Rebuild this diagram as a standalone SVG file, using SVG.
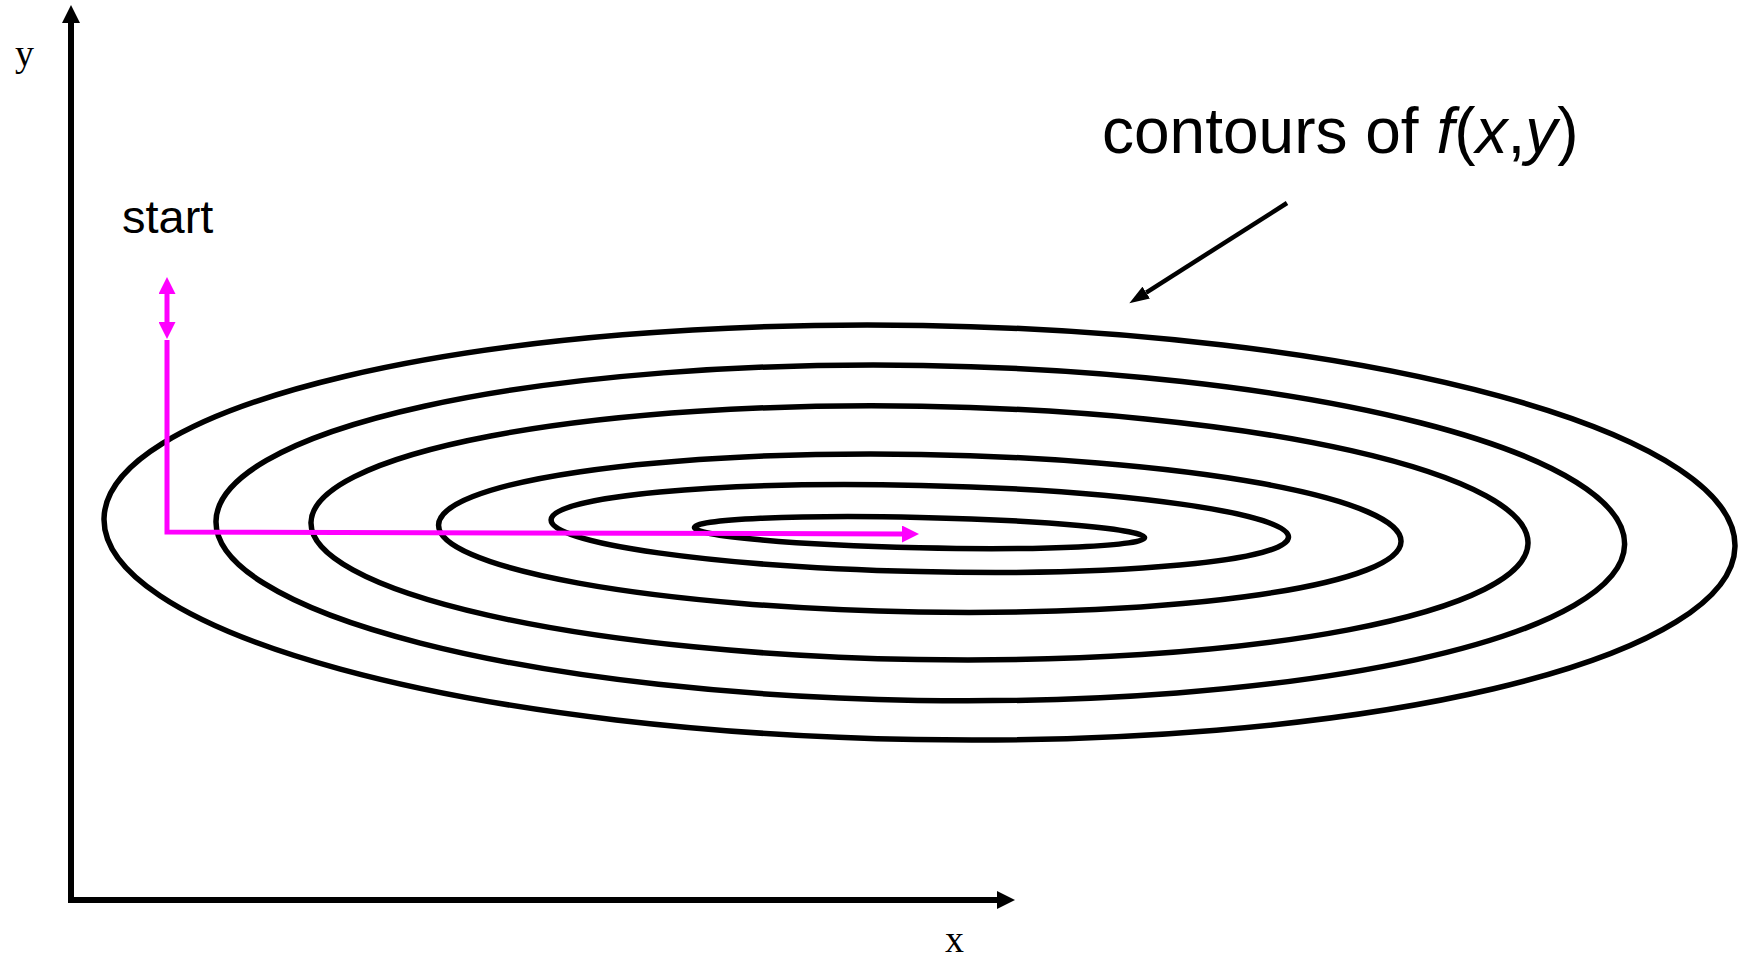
<svg xmlns="http://www.w3.org/2000/svg" width="1743" height="962" viewBox="0 0 1743 962">
<style>
.contour{fill:none;stroke:#000;stroke-width:5.5}
.axis{fill:none;stroke:#000;stroke-width:6}
.path{fill:none;stroke:#FF00FF;stroke-width:5;stroke-linejoin:miter}
.sans{font-family:"Liberation Sans",Arial,sans-serif;fill:#000}
.serif{font-family:"Liberation Serif","Times New Roman",serif;fill:#000}
</style>
<defs>
<marker id="axhead" markerUnits="userSpaceOnUse" markerWidth="18" markerHeight="18" refX="0" refY="9" orient="auto" viewBox="0 0 18 18"><path d="M0,0 L18,9 L0,18 z" fill="#000"/></marker>
<marker id="blkhead" markerUnits="userSpaceOnUse" markerWidth="20" markerHeight="14" refX="0" refY="7" orient="auto" viewBox="0 0 20 14"><path d="M0,0 L20,7 L0,14 z" fill="#000"/></marker>
<marker id="maghead" markerUnits="userSpaceOnUse" markerWidth="17" markerHeight="17" refX="0" refY="8.5" orient="auto-start-reverse" viewBox="0 0 17 17"><path d="M0,0 L17,8.5 L0,17 z" fill="#FF00FF"/></marker>
</defs>
<rect width="1743" height="962" fill="#fff"/>
<g id="contours">
<ellipse class="contour" cx="919.5" cy="532.5" rx="815.6" ry="207.1" transform="rotate(0.98 919.5 532.5)"/>
<ellipse class="contour" cx="920.3" cy="532.9" rx="704.4" ry="167.5" transform="rotate(0.95 920.3 532.9)"/>
<ellipse class="contour" cx="919.5" cy="532.9" rx="608.6" ry="126.7" transform="rotate(0.98 919.5 532.9)"/>
<ellipse class="contour" cx="919.8" cy="533.2" rx="481.3" ry="78.8" transform="rotate(0.98 919.8 533.2)"/>
<ellipse class="contour" cx="919.8" cy="528.5" rx="368.8" ry="43.1" transform="rotate(1.34 919.8 528.5)"/>
<ellipse class="contour" cx="919.5" cy="532.6" rx="225.1" ry="15.2" transform="rotate(1.28 919.5 532.6)"/>
</g>
<g id="label-y"><text class="serif" x="15" y="66" font-size="38">y</text></g>
<g id="label-x"><text class="serif" x="954.5" y="952" font-size="38" text-anchor="middle">x</text></g>
<g id="label-start"><text class="sans" x="122" y="233" font-size="47">start</text></g>
<g id="label-contours"><text class="sans" x="1102" y="153" font-size="64">contours of <tspan font-style="italic">f</tspan>(<tspan font-style="italic">x</tspan>,<tspan font-style="italic">y</tspan>)</text></g>
<g id="connectors">
<line class="axis" x1="71" y1="903" x2="71" y2="23" marker-end="url(#axhead)"/>
<line class="axis" x1="68" y1="900" x2="997" y2="900" marker-end="url(#axhead)"/>
<line x1="1287" y1="203" x2="1146.2" y2="292.6" stroke="#000" stroke-width="4.5" marker-end="url(#blkhead)"/>
<path class="path" d="M167,340 L167,532 L902,534" marker-end="url(#maghead)"/>
<line class="path" x1="167" y1="294" x2="167" y2="322" stroke-width="4" marker-start="url(#maghead)" marker-end="url(#maghead)"/>
</g>
</svg>
